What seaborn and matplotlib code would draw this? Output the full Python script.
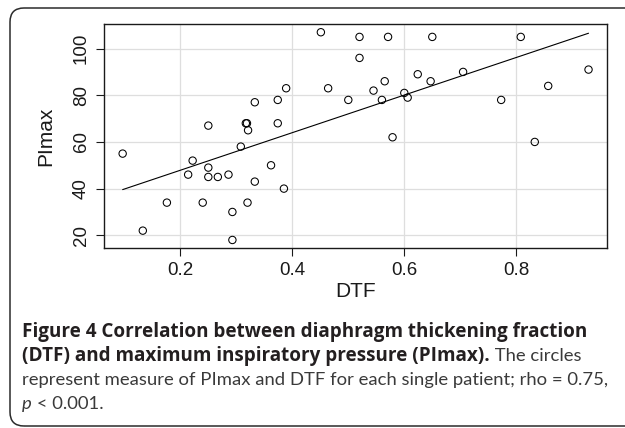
import matplotlib
matplotlib.use('Agg')
import matplotlib.pyplot as plt
import seaborn as sns
import pandas as pd
from matplotlib.patches import FancyBboxPatch
from matplotlib.transforms import IdentityTransform

# values (one circle per patient)
dtf = [0.097, 0.133, 0.176, 0.214, 0.222, 0.240, 0.250, 0.250, 0.250, 0.267,
       0.286, 0.293, 0.293, 0.308, 0.317, 0.319, 0.321, 0.320, 0.333, 0.333,
       0.362, 0.374, 0.374, 0.385, 0.389, 0.451, 0.464, 0.500, 0.520, 0.520,
       0.545, 0.560, 0.565, 0.571, 0.579, 0.600, 0.606, 0.624, 0.647, 0.650,
       0.705, 0.773, 0.808, 0.833, 0.857, 0.929]
pimax = [55, 22, 34, 46, 52, 34, 67, 49, 45, 45,
         46, 30, 18, 58, 68, 68, 65, 34, 77, 43,
         50, 78, 68, 40, 83, 107, 83, 78, 105, 96,
         82, 78, 86, 105, 62, 81, 79, 89, 86, 105,
         90, 78, 105, 60, 84, 91]
x_ticks = [0.2, 0.4, 0.6, 0.8]
y_ticks = [20, 40, 60, 80, 100]

df = pd.DataFrame({'DTF': dtf, 'PImax': pimax})

sns.set_theme(style='white')
plt.rcParams['font.family'] = ['Liberation Sans', 'DejaVu Sans']

W, H = 625, 428
fig = plt.figure(figsize=(W / 100, H / 100), dpi=100)
fig.patch.set_facecolor('white')

# rounded frame around the figure panel
frame = FancyBboxPatch((10, 2), 660, 418, boxstyle='round,pad=0,rounding_size=14',
                       transform=IdentityTransform(), facecolor='none',
                       edgecolor='#2b2b2b', linewidth=1.1)
fig.add_artist(frame)

ax = fig.add_axes([104 / W, 1 - 248 / H, 503 / W, (248 - 24.3) / H])

sns.regplot(data=df, x='DTF', y='PImax', ax=ax, scatter=False, ci=None,
            truncate=True, line_kws={'color': 'black', 'linewidth': 0.8})
sns.scatterplot(data=df, x='DTF', y='PImax', ax=ax, s=28, marker='o',
                facecolor='none', edgecolor='black', linewidth=0.75, zorder=3)

ax.set_xlim(0.0637, 0.962)
ax.set_ylim(14.56, 110.4)
ax.set_xticks(x_ticks)
ax.set_yticks(y_ticks)
ax.set_xticklabels([f'{v:.1f}' for v in x_ticks])
ax.set_yticklabels([str(v) for v in y_ticks], rotation=90, va='center')
ax.grid(True, color='#dedede', linewidth=0.9)
ax.set_axisbelow(True)
for sp in ax.spines.values():
    sp.set_color('#1a1a1a')
    sp.set_linewidth(1.0)
ax.tick_params(axis='both', direction='out', length=6, width=0.8,
               color='#1a1a1a', labelsize=13.5, labelcolor='#1a1a1a', pad=4,
               bottom=True, left=True)
ax.set_xlabel('DTF', fontsize=15, color='#1a1a1a', labelpad=2)
ax.set_ylabel('PImax', fontsize=15, color='#1a1a1a', labelpad=13)

# caption
cap_b = ['Open Sans', 'DejaVu Sans']
cap_r = ['Lato', 'DejaVu Sans']
bold_col = '#231f20'
reg_col = '#3a3a3a'
left = 22 / W
base = [336.5, 361, 385.5, 409]
fig.canvas.draw()
r = fig.canvas.get_renderer()


def width(s, fam, **kw):
    t = fig.text(0, 0, s, fontsize=12, family=fam, **kw)
    w = t.get_window_extent(r).width
    t.remove()
    return w


line1 = 'Figure 4 Correlation between diaphragm thickening fraction'
line3 = 'represent measure of PImax and DTF for each single patient; rho = 0.75,'
fs_b = 12 * 565 / width(line1, cap_b, fontweight='bold')
fs_r = 12 * 584 / width(line3, cap_r, fontweight='normal')


def put(x, yb, s, bold=False, **kw):
    if bold:
        t = fig.text(x, 1 - yb / H, s, fontsize=fs_b, family=cap_b, va='baseline',
                     fontweight='bold', color=bold_col, **kw)
    else:
        t = fig.text(x, 1 - yb / H, s, fontsize=fs_r, family=cap_r, va='baseline',
                     fontweight='normal', color=reg_col, **kw)
    return t.get_window_extent(r).x1 / W


put(left, base[0], line1, bold=True)
x = put(left, base[1], '(DTF) and maximum inspiratory pressure (PImax).', bold=True)
put(x, base[1], ' The circles')
put(left, base[2], line3)
x = put(left, base[3], 'p', style='italic')
put(x, base[3], ' < 0.001.')

fig.savefig('out.png', dpi=100)
